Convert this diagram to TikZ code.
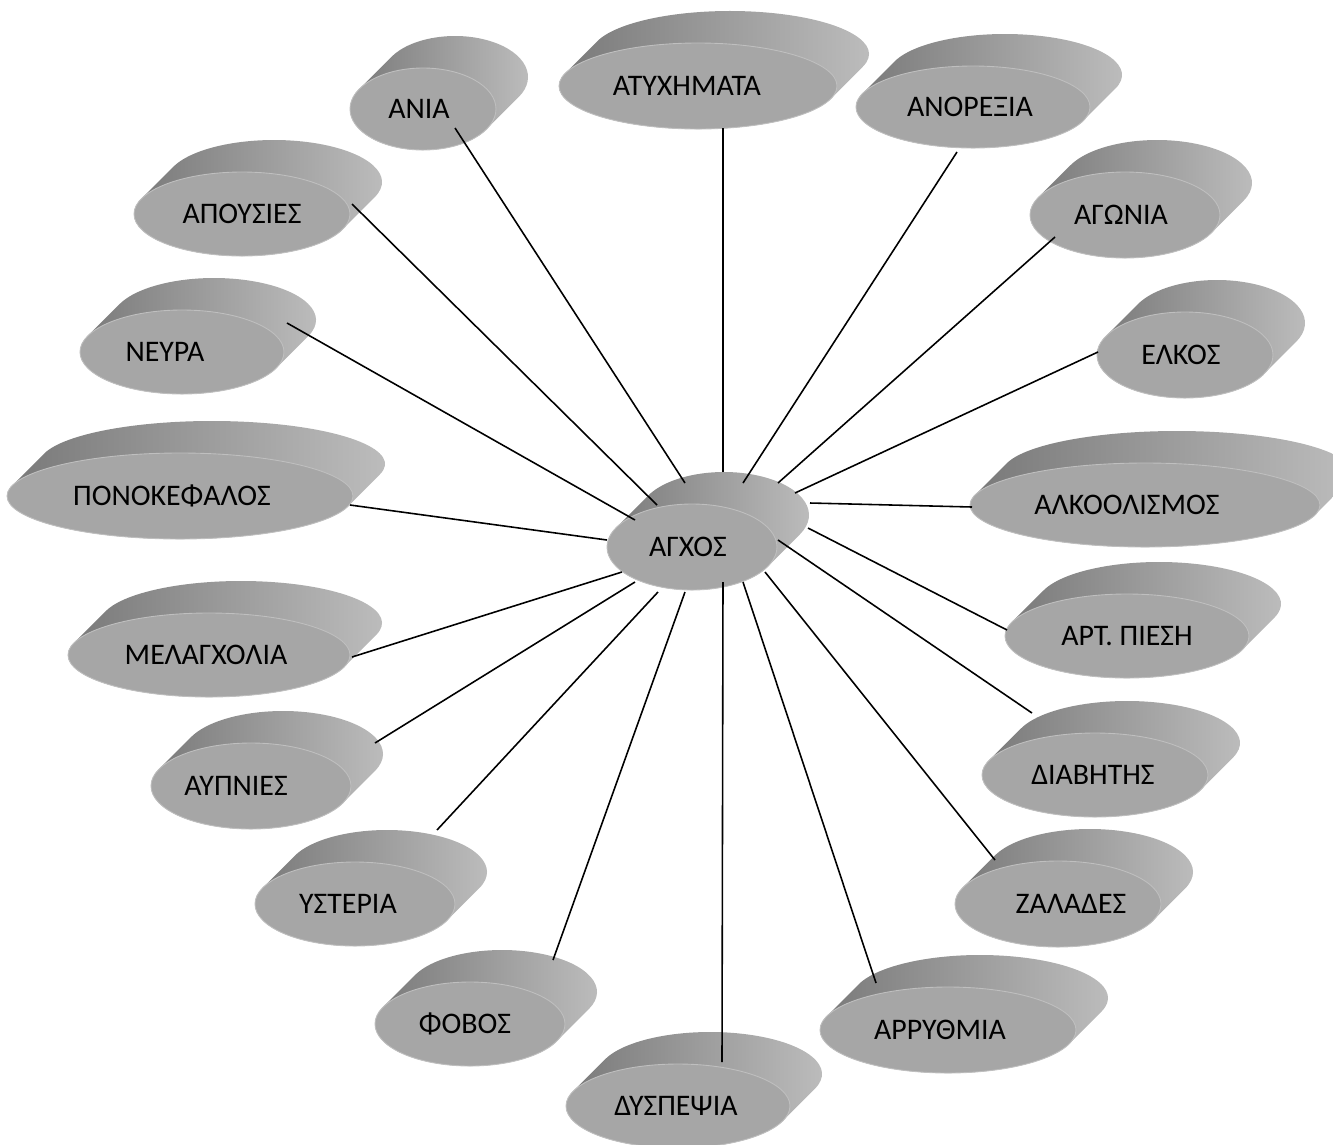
\documentclass[tikz,border=0pt]{standalone}
\usepackage{fontspec}
\setmainfont{Carlito}
\usetikzlibrary{shapes.geometric}
\tikzset{
  face/.style={ellipse, fill=black!35, draw=black!25, line width=0.5pt, inner sep=0pt},
  side/.style={left color=black!54, right color=black!25},
  lbl/.style={inner sep=0pt, font=\fontsize{17}{20}\selectfont},
  link/.style={line width=0.9pt, black},
}

\begin{document}
\begin{tikzpicture}[x=0.02cm, y=0.02cm]
\useasboundingbox (0,0) rectangle (1333,-1144);

% --- ellipses: name/x/y/rx/ry/text shift/label ---
\foreach \n/\x/\y/\rx/\ry/\dx/\txt in {
  agxos/692/547/85/43/-4/ΑΓΧΟΣ,
  ania/423/109/73/41/-4/ΑΝΙΑ,
  atyx/698/86/139/43/-11/ΑΤΥΧΗΜΑΤΑ,
  anor/973/107/117/41/-3/ΑΝΟΡΕΞΙΑ,
  apous/242/214/108/42/0/ΑΠΟΥΣΙΕΣ,
  agon/1125/215/95/43/-4/ΑΓΩΝΙΑ,
  neyra/182/352/102/42/-17/ΝΕΥΡΑ,
  elkos/1185/355/88/43/-4/ΕΛΚΟΣ,
  ponok/180/496/173/43/-8/ΠΟΝΟΚΕΦΑΛΟΣ,
  alkool/1145/505/175/42/-18/ΑΛΚΟΟΛΙΣΜΟΣ,
  melag/209/655/141/42/-3/ΜΕΛΑΓΧΟΛΙΑ,
  artp/1127/636/122/42/0/ΑΡΤ. ΠΙΕΣΗ,
  aypn/251/786/100/43/-15/ΑΥΠΝΙΕΣ,
  diab/1095/775/113/42/-2/ΔΙΑΒΗΤΗΣ,
  yster/355/904/100/42/-7/ΥΣΤΕΡΙΑ,
  zalad/1058/904/103/43/13/ΖΑΛΑΔΕΣ,
  fobos/470/1024/95/42/-5/ΦΟΒΟΣ,
  arryth/948/1030/128/43/-8/ΑΡΡΥΘΜΙΑ,
  dysp/678/1106/112/42/-2/ΔΥΣΠΕΨΙΑ} {
  \pgfmathsetmacro\ta{-atan(\ry/\rx)}
  \pgfmathsetmacro\px{\x+\rx*cos(\ta)}
  \pgfmathsetmacro\py{-\y+\ry*sin(\ta)}
  \shade[side] (\px,\py) -- ++(32,32)
    arc[start angle=\ta, end angle=\ta+180, x radius=\rx, y radius=\ry] -- ++(-32,-32)
    arc[start angle=\ta+180, end angle=\ta+360, x radius=\rx, y radius=\ry] -- cycle;
  \node[face, minimum width=2*\rx*0.02cm, minimum height=2*\ry*0.02cm] (\n) at (\x,-\y) {};
  \node[lbl] (\n t) at (\x+\dx,-\y) {\txt};
}

% --- connectors: name/hub offset/outer offset ---
\foreach \n/\hx/\hy/\ox/\oy in {
  ania/-7/64/32/-19,      atyx/31/75/25/-42,     anor/51/64/-16/-45,
  agon/86/64/-70/-22,     elkos/103/54/-87/3,    alkool/118/44/-173/-2,
  artp/116/19/-120/6,     diab/86/7/-63/62,      zalad/73/-25/-63/44,
  arryth/51/-35/-72/47,   dysp/31/-35/44/44,     fobos/-7/-45/83/64,
  yster/-34/-45/82/74,    aypn/-57/-35/124/43,   melag/-70/-25/143/-2,
  ponok/-85/7/170/-9,     neyra/-57/27/105/29,   apous/-35/42/110/10}
  \draw[link] ([shift={(\hx,\hy)}]agxos.center) -- ([shift={(\ox,\oy)}]\n.center);
\end{tikzpicture}
\end{document}
